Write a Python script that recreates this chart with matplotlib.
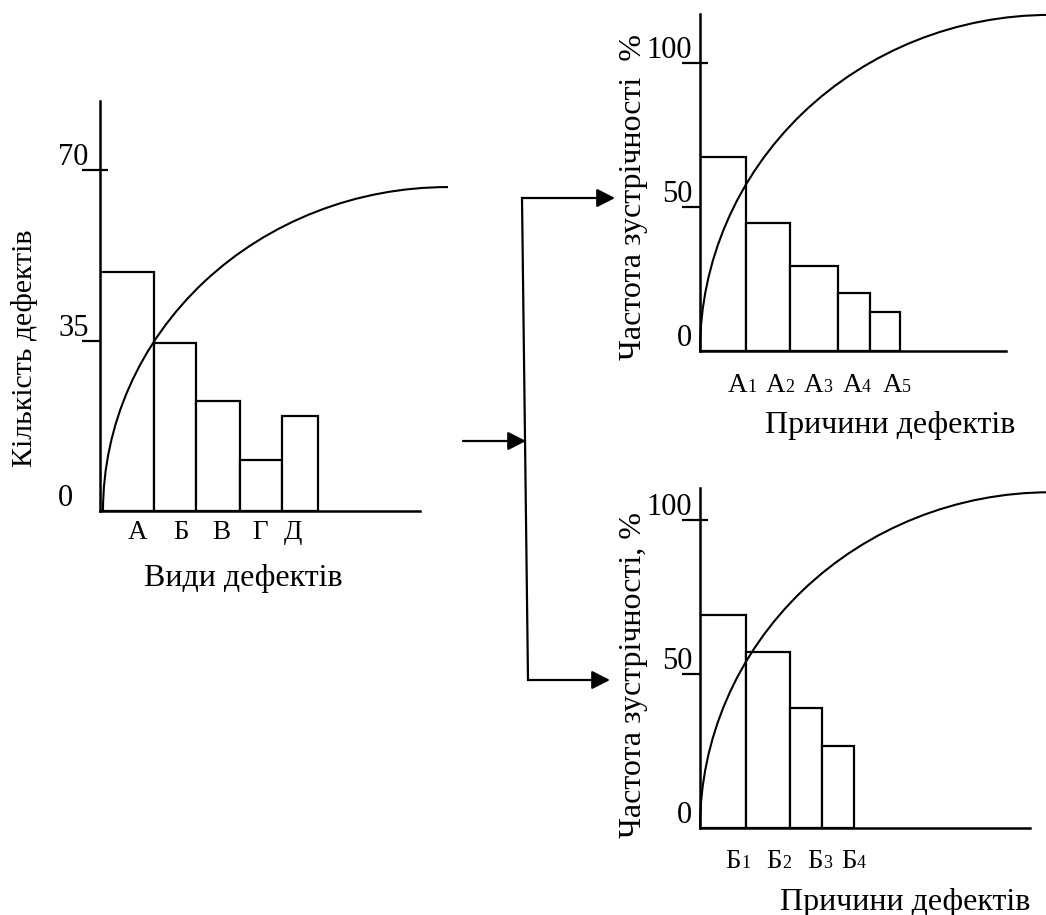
import numpy as np
import matplotlib
matplotlib.use("Agg")
import matplotlib.pyplot as plt
from matplotlib.patches import Arc

plt.rcParams['font.family'] = ['Liberation Serif', 'DejaVu Serif']

W, H = 1046, 915

# left chart: types of defects
types = ['А', 'Б', 'В', 'Г', 'Д']
counts = [49, 34.5, 22.5, 10.5, 19.5]
type_widths = [5.4, 4.2, 4.4, 4.2, 3.6]
type_ticks = [3.8, 8.1, 12.1, 16.0, 19.3]
count_yticks = [0, 35, 70]
count_curve_top = 66.5

# top right: causes of defect A
causes_a = ['А1', 'А2', 'А3', 'А4', 'А5']
freq_a = [67.5, 44.5, 29.5, 20, 13.5]
widths_a = [4.6, 4.4, 4.8, 3.2, 3.0]
ticks_a = [4.7, 8.5, 12.3, 16.2, 20.2]
curve_top_a = 116.7

# bottom right: causes of defect Б
causes_b = ['Б1', 'Б2', 'Б3', 'Б4']
freq_b = [69, 57, 39, 26.5]
widths_b = [4.6, 4.4, 3.2, 3.2]
ticks_b = [4.1, 8.2, 12.3, 15.7]
curve_top_b = 109

pct_yticks = [0, 50, 100]

fig = plt.figure(figsize=(W / 100, H / 100), dpi=100)

# overlay in pixel coords for arrows and axis titles
ax0 = fig.add_axes([0, 0, 1, 1])
ax0.set_xlim(0, W)
ax0.set_ylim(H, 0)
ax0.axis('off')


def make_ax(ox, oy, xpx, ypx, xmax, ymax):
    ax = fig.add_axes([ox / W, 1 - oy / H, xmax * xpx / W, ymax * ypx / H])
    ax.set_xlim(0, xmax)
    ax.set_ylim(0, ymax)
    ax.patch.set_alpha(0)
    return ax


def draw_chart(ax, vals, widths, xlen, yticks, curve_start, curve_end, curve_top,
               lab_x, labels, lab_dy, num_dx, num_ha):
    lefts = np.concatenate([[0], np.cumsum(widths)[:-1]])
    ax.bar(lefts, vals, width=widths, align='edge', color='white',
           edgecolor='black', linewidth=1.6, zorder=2)
    ax.add_patch(Arc((curve_end, 0), 2 * (curve_end - curve_start), 2 * curve_top,
                     theta1=90, theta2=180, color='black', lw=1.5, zorder=3,
                     clip_on=False))
    for s in ['top', 'right']:
        ax.spines[s].set_visible(False)
    for s in ['left', 'bottom']:
        ax.spines[s].set_linewidth(1.8)
    ax.spines['bottom'].set_bounds(0, xlen)
    ax.set_xticks([])
    ax.yaxis.remove_overlapping_locs = False
    ax.set_yticks(yticks[1:], labels=[])
    ax.set_yticks(yticks[1:], minor=True)
    ax.tick_params(axis='y', which='major', direction='out', length=13, width=1.6)
    ax.tick_params(axis='y', which='minor', direction='in', length=5.5, width=1.6)
    for v in yticks:
        ax.annotate(str(v), xy=(0, v), xytext=(num_dx, 5), textcoords='offset pixels',
                    ha=num_ha, va='baseline', fontsize=22)
    for x, lab in zip(lab_x, labels):
        if len(lab) == 1:
            ax.annotate(lab, xy=(x, 0), xytext=(0, -lab_dy), textcoords='offset pixels',
                        ha='center', va='baseline', fontsize=19.5)
        else:
            ax.annotate(lab[0], xy=(x, 0), xytext=(0, -lab_dy), textcoords='offset pixels',
                        ha='right', va='baseline', fontsize=19.5)
            ax.annotate(lab[1:], xy=(x, 0), xytext=(0, -lab_dy), textcoords='offset pixels',
                        ha='left', va='baseline', fontsize=13)


ax1 = make_ax(100, 511, 10, 4.871, 36, 84.2)
draw_chart(ax1, counts, type_widths, 32, count_yticks, 0.3, 34.8, count_curve_top,
           type_ticks, types, 28, -42, 'left')

ax2 = make_ax(700, 351, 10, 2.88, 34.6, 117)
draw_chart(ax2, freq_a, widths_a, 30.6, pct_yticks, 0, 35, curve_top_a,
           ticks_a, causes_a, 41, -8, 'right')

ax3 = make_ax(700, 828, 10, 3.08, 34.6, 110.4)
draw_chart(ax3, freq_b, widths_b, 33, pct_yticks, 0, 35, curve_top_b,
           ticks_b, causes_b, 40, -8, 'right')

# axis titles
ax0.text(25, 348, 'Кількість дефектів', rotation=90, ha='center', va='center', fontsize=21.5)
ax0.text(243, 586, 'Види дефектів', ha='center', va='baseline', fontsize=23)
ax0.text(633, 197, 'Частота зустрічності  %', rotation=90, ha='center', va='center', fontsize=23)
ax0.text(890, 433, 'Причини дефектів', ha='center', va='baseline', fontsize=23)
ax0.text(633, 675, 'Частота зустрічності, %', rotation=90, ha='center', va='center', fontsize=23)
ax0.text(905, 910, 'Причини дефектів', ha='center', va='baseline', fontsize=23)

# connecting arrows
arr = dict(arrowstyle='-|>,head_length=0.55,head_width=0.28', mutation_scale=20,
           color='black', lw=1.6, shrinkA=0, shrinkB=0)
ax0.plot([522, 528], [198, 680], color='black', lw=1.6)
ax0.annotate('', xy=(615, 198), xytext=(522, 198), arrowprops=arr)
ax0.annotate('', xy=(610, 680), xytext=(528, 680), arrowprops=arr)
ax0.annotate('', xy=(526, 441), xytext=(463, 441), arrowprops=arr)

fig.savefig('out.png', dpi=100)
